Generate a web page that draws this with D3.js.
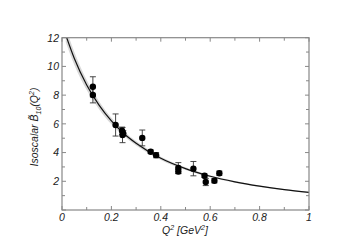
<!DOCTYPE html>
<html><head><meta charset="utf-8">
<script src="https://cdn.jsdelivr.net/npm/d3@7"></script>
<style>body{margin:0;background:#fff}svg text{font-family:"Liberation Sans",Arial,sans-serif;font-style:italic}</style>
</head><body><svg id="c" width="351" height="248"></svg>
<script>
// data points (Q^2, value, error)
const ptQ2  = [0.125,0.125,0.217,0.243,0.248,0.245,0.325,0.359,0.381,0.471,0.471,0.532,0.577,0.582,0.617,0.637];
const ptVal = [8.58,8.01,5.92,5.52,5.34,5.22,5.02,4.06,3.82,2.92,2.68,2.88,2.39,1.95,2.04,2.56];
const ptErr = [0.70,0.55,0.77,0.25,0.20,0.53,0.55,0.12,0.18,0.38,0.15,0.50,0.12,0.25,0.15,0.15];
// fit curve
const fitQ2  = [0.015,0.05,0.1,0.15,0.2,0.25,0.3,0.4,0.5,0.6,0.7,0.8,0.9,1.0];
const fitVal = [12.2,10.55,8.7,7.3,6.2,5.33,4.65,3.6,2.88,2.35,1.96,1.66,1.42,1.23];
const bandLo = [11.7,10.1,8.35,7.02,5.97,5.15,4.5,3.49,2.79,2.28,1.9,1.61,1.38,1.19];
const bandHi = [12.7,11.0,9.05,7.58,6.43,5.51,4.8,3.71,2.97,2.42,2.02,1.71,1.46,1.27];
const xTicks = [0,0.2,0.4,0.6,0.8,1];
const xTickLabels = ["0","0.2","0.4","0.6","0.8","1"];
const yTicks = [2,4,6,8,10,12];

const svg = d3.select("#c");
const L=62,R=309,T=37.7,B=210;
const x = d3.scaleLinear().domain([0,1]).range([L,R]);
const y = d3.scaleLinear().domain([0,12]).range([B,T]);

svg.append("clipPath").attr("id","clip").append("rect").attr("x",L).attr("y",T).attr("width",R-L).attr("height",B-T);
const g = svg.append("g").attr("clip-path","url(#clip)");
const fit = fitQ2.map((q,i)=>({q,v:fitVal[i],lo:bandLo[i],hi:bandHi[i]}));
g.append("path").datum(fit).attr("fill","#d8d8d8")
 .attr("d",d3.area().x(d=>x(d.q)).y0(d=>y(d.lo)).y1(d=>y(d.hi)).curve(d3.curveMonotoneX));
g.append("path").datum(fit).attr("fill","none").attr("stroke","#111").attr("stroke-width",1.2)
 .attr("d",d3.line().x(d=>x(d.q)).y(d=>y(d.v)).curve(d3.curveMonotoneX));

// axes frame with inward ticks
const ac="#888";
svg.append("rect").attr("x",L).attr("y",T).attr("width",R-L).attr("height",B-T).attr("fill","none").attr("stroke",ac).attr("stroke-width",1.2);
const minorX = d3.range(0,11).map(i=>i/10);
const minorY = d3.range(0,13);
minorX.forEach((v,i)=>{
  const len = i%2===0?4:3;
  svg.append("line").attr("x1",x(v)).attr("x2",x(v)).attr("y1",B).attr("y2",B-len).attr("stroke",ac);
  svg.append("line").attr("x1",x(v)).attr("x2",x(v)).attr("y1",T).attr("y2",T+len).attr("stroke",ac);
});
minorY.forEach((v,i)=>{
  const len = i%2===0?4:3;
  svg.append("line").attr("y1",y(v)).attr("y2",y(v)).attr("x1",L).attr("x2",L+len).attr("stroke",ac);
  svg.append("line").attr("y1",y(v)).attr("y2",y(v)).attr("x1",R).attr("x2",R-len).attr("stroke",ac);
});
xTicks.forEach((v,i)=>{
  svg.append("text").attr("x",x(v)).attr("y",B+11).attr("text-anchor","middle").attr("font-size",10.5).attr("fill","#222").text(xTickLabels[i]);
});
yTicks.forEach(v=>{
  svg.append("text").attr("x",L-3).attr("y",y(v)+3.8).attr("text-anchor","end").attr("font-size",10.5).attr("fill","#222").text(v);
});

// error bars and points
const pts = ptQ2.map((q,i)=>({q,v:ptVal[i],e:ptErr[i]}));
const eb = svg.append("g").attr("stroke","#333").attr("stroke-width",0.9);
pts.forEach(d=>{
  eb.append("line").attr("x1",x(d.q)).attr("x2",x(d.q)).attr("y1",y(d.v-d.e)).attr("y2",y(d.v+d.e));
  [d.v-d.e,d.v+d.e].forEach(w=>eb.append("line").attr("x1",x(d.q)-3).attr("x2",x(d.q)+3).attr("y1",y(w)).attr("y2",y(w)));
});
svg.append("g").selectAll("circle").data(pts).join("circle")
 .attr("cx",d=>x(d.q)).attr("cy",d=>y(d.v)).attr("r",3.2).attr("fill","#000");

// axis titles
const xt = svg.append("text").attr("x",185).attr("y",234).attr("text-anchor","middle").attr("font-size",10.5).attr("fill","#222");
xt.append("tspan").text("Q");
xt.append("tspan").attr("dy",-4).attr("font-size",7).text("2");
xt.append("tspan").attr("dy",4).text(" [GeV");
xt.append("tspan").attr("dy",-4).attr("font-size",7).text("2");
xt.append("tspan").attr("dy",4).text("]");

const yt = svg.append("text").attr("transform","translate(38,127) rotate(-90)").attr("text-anchor","middle").attr("font-size",10.5).attr("fill","#222");
yt.append("tspan").text("Isoscalar B\u0303");
yt.append("tspan").attr("dy",2.5).attr("font-size",7).text("10");
yt.append("tspan").attr("dy",-2.5).text("(Q");
yt.append("tspan").attr("dy",-4).attr("font-size",7).text("2");
yt.append("tspan").attr("dy",4).text(")");
</script></body></html>
